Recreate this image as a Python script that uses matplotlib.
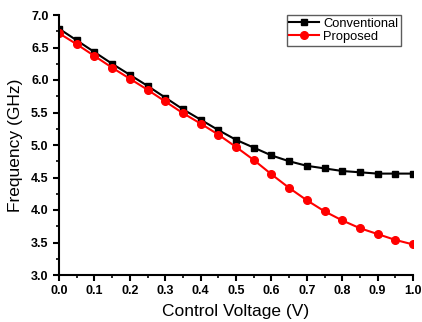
import matplotlib
matplotlib.use('Agg')
import matplotlib.pyplot as plt
import numpy as np
from matplotlib.ticker import MultipleLocator

plt.rcParams['font.family'] = ['Liberation Sans', 'DejaVu Sans']

# control voltage sweep
voltage = [0.0, 0.05, 0.1, 0.15, 0.2, 0.25, 0.3, 0.35, 0.4, 0.45, 0.5,
           0.55, 0.6, 0.65, 0.7, 0.75, 0.8, 0.85, 0.9, 0.95, 1.0]
conventional = [6.79, 6.61, 6.43, 6.25, 6.08, 5.91, 5.73, 5.55, 5.39, 5.23, 5.08,
                4.96, 4.84, 4.75, 4.68, 4.64, 4.60, 4.58, 4.56, 4.56, 4.56]
proposed = [6.72, 6.55, 6.37, 6.19, 6.02, 5.85, 5.67, 5.49, 5.33, 5.16, 4.97,
            4.77, 4.55, 4.34, 4.15, 3.98, 3.84, 3.72, 3.63, 3.54, 3.47]

fig = plt.figure(figsize=(4.22, 3.22), dpi=100)
ax = fig.add_axes([59/422, 1 - 275/322, 354/422, 260/322])

ax.plot(voltage, conventional, color='black', marker='s', ms=5, lw=1.5, label='Conventional')
ax.plot(voltage, proposed, color='red', marker='o', ms=5.5, lw=1.5, label='Proposed')

ax.set_xlim(0, 1.0)
ax.set_ylim(3.0, 7.0)
ax.xaxis.set_major_locator(MultipleLocator(0.1))
ax.xaxis.set_minor_locator(MultipleLocator(0.05))
ax.yaxis.set_major_locator(MultipleLocator(0.5))
ax.yaxis.set_minor_locator(MultipleLocator(0.25))
ax.spines['top'].set_visible(False)
ax.spines['right'].set_visible(False)
ax.spines['left'].set_linewidth(1.5)
ax.spines['bottom'].set_linewidth(1.5)
ax.tick_params(which='major', direction='out', length=4, width=1.5, labelsize=9)
ax.tick_params(which='minor', direction='out', length=2.5, width=1.2)
for lbl in ax.get_xticklabels() + ax.get_yticklabels():
    lbl.set_fontweight('bold')

ax.set_xlabel('Control Voltage (V)', fontsize=12.5, labelpad=5)
ax.set_ylabel('Frequency (GHz)', fontsize=12.5, labelpad=6)

leg = ax.legend(loc='upper right', bbox_to_anchor=(0.965, 1.0), fontsize=9.3,
                frameon=True, fancybox=False, edgecolor='#333333',
                borderpad=0.2, labelspacing=0.1, handlelength=2.3, handletextpad=0.3,
                borderaxespad=0)
leg.get_frame().set_linewidth(1.0)

fig.savefig('out.png', dpi=100)
